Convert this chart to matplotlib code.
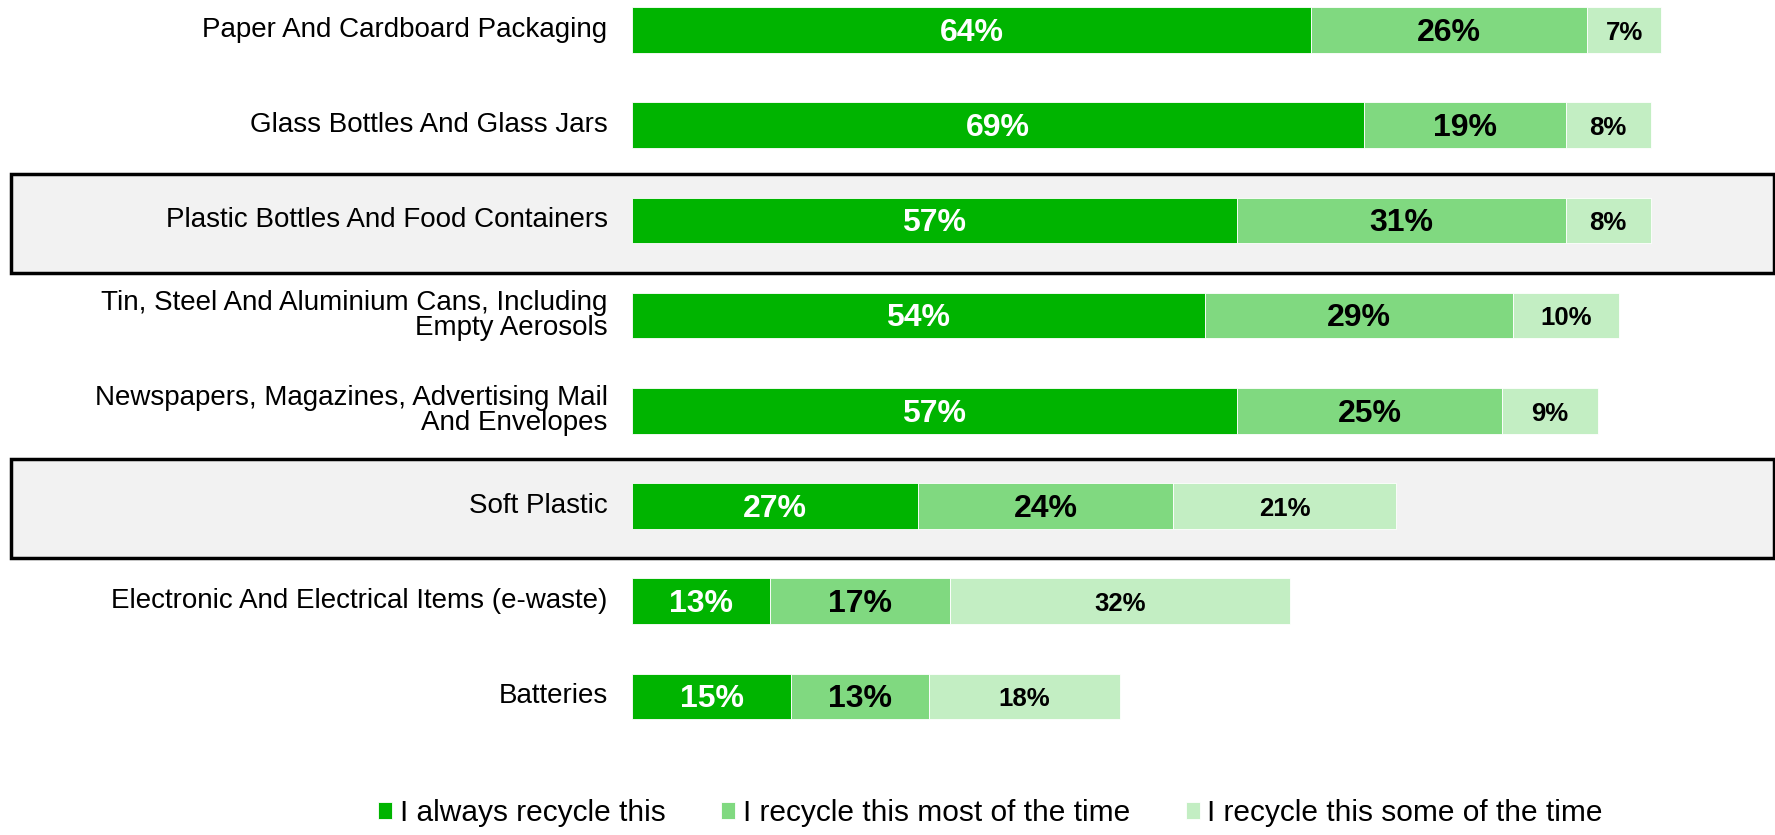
import numpy as np
import matplotlib
matplotlib.use('Agg')
import matplotlib.pyplot as plt
from matplotlib.patches import Rectangle

plt.rcParams['font.family'] = ['Liberation Sans', 'DejaVu Sans']

# Categories, top to bottom.
categories = [
    'Paper And Cardboard Packaging',
    'Glass Bottles And Glass Jars',
    'Plastic Bottles And Food Containers',
    'Tin, Steel And Aluminium Cans, Including\nEmpty Aerosols',
    'Newspapers, Magazines, Advertising Mail\nAnd Envelopes',
    'Soft Plastic',
    'Electronic And Electrical Items (e-waste)',
    'Batteries',
]
always = [64, 69, 57, 54, 57, 27, 13, 15]
mostly = [26, 19, 31, 29, 25, 24, 17, 13]
sometimes = [7, 8, 8, 10, 9, 21, 32, 18]
series_names = ['I always recycle this',
                'I recycle this most of the time',
                'I recycle this some of the time']
highlighted = ['Plastic Bottles And Food Containers', 'Soft Plastic']

colors = ['#00B400', '#80D980', '#C3EEC3']
text_colors = ['white', 'black', 'black']
text_sizes = [23, 23, 18.5]

W, H = 1775, 835
fig = plt.figure(figsize=(W / 100, H / 100), dpi=100)
ax = fig.add_axes([0, 0, 1, 1])

# Pixel layout -> data coordinates.
px_per_unit = 10.61
x0_px = 632
row0_px = 30
row_px = 95.2
ax.set_xlim(-x0_px / px_per_unit, (W - x0_px) / px_per_unit)
ax.set_ylim((H - row0_px) / row_px, -row0_px / row_px)
ax.axis('off')

y = np.arange(len(categories))

# Highlight boxes behind selected rows.
for name in highlighted:
    i = categories.index(name)
    ax.add_patch(Rectangle((-58.5, i - 0.49), 166.1, 1.04,
                           facecolor='#F2F2F2', edgecolor='black',
                           linewidth=2.5, zorder=0))

left = np.zeros(len(categories))
for vals, col, tc, ts, name in zip([always, mostly, sometimes], colors,
                                   text_colors, text_sizes, series_names):
    vals = np.array(vals, dtype=float)
    ax.barh(y, vals, left=left, height=0.48, color=col,
            edgecolor='white', linewidth=0.6, label=name, zorder=2)
    for yi, l, v in zip(y, left, vals):
        ax.text(l + v / 2, yi + 0.03, '{:d}%'.format(int(v)), ha='center',
                va='center', color=tc, fontsize=ts, fontweight='bold',
                zorder=3)
    left = left + vals

for yi, name in zip(y, categories):
    ax.text(-2.3, yi, name, ha='right', va='center', fontsize=20,
            linespacing=0.95, zorder=3)

ax.legend(loc='center', bbox_to_anchor=(0.558, 0.026), ncol=3,
          frameon=False, fontsize=21.5, handlelength=0.47, handleheight=0.47,
          handletextpad=0.25, columnspacing=1.87)

fig.savefig('out.png', dpi=100)
